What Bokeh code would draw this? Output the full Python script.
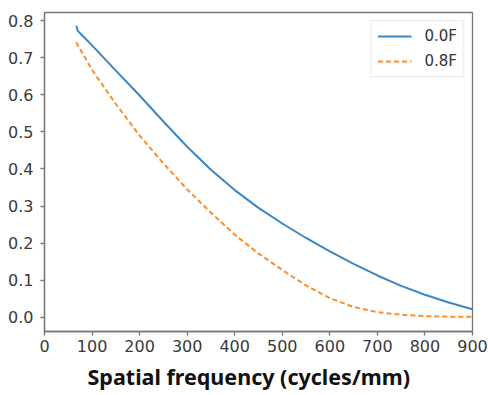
from bokeh.plotting import figure
from bokeh.models import FixedTicker, PrintfTickFormatter, Legend, LegendItem, Range1d, Title
from bokeh.embed import file_html
from bokeh.resources import INLINE

# Spatial frequency (cycles/mm)
freq = [67, 70, 80, 100, 150, 200, 250, 300, 350, 400, 450, 500, 550, 600,
        650, 700, 750, 800, 850, 900]
# MTF at field 0.0F
mtf_00 = [0.786, 0.772, 0.759, 0.733, 0.665, 0.598, 0.528, 0.460, 0.398, 0.343,
          0.295, 0.253, 0.214, 0.178, 0.144, 0.113, 0.085, 0.061, 0.040, 0.022]
# MTF at field 0.8F
mtf_08 = [0.742, 0.733, 0.712, 0.667, 0.575, 0.490, 0.415, 0.345, 0.282, 0.223,
          0.172, 0.128, 0.086, 0.052, 0.028, 0.014, 0.007, 0.0035, 0.002, 0.002]
series_names = ["0.0F", "0.8F"]
x_ticks = [0, 100, 200, 300, 400, 500, 600, 700, 800, 900]
y_ticks = [0.0, 0.1, 0.2, 0.3, 0.4, 0.5, 0.6, 0.7, 0.8]
x_title = "Spatial frequency (cycles/mm)"

p = figure(width=488, height=395, output_backend="svg", toolbar_location=None,
           x_range=Range1d(0, 900), y_range=Range1d(-0.038, 0.8216),
           min_border_left=44, min_border_right=16, min_border_top=12, min_border_bottom=0)

p.grid.visible = False
p.outline_line_color = "#777777"
p.outline_line_width = 1.3
p.background_fill_color = "white"
p.border_fill_color = "white"

r1 = p.line(freq, mtf_00, line_color="#3a87c4", line_width=2)
r2 = p.line(freq, mtf_08, line_color="#ff8c26", line_width=2, line_dash="5 3")

for ax in (p.xaxis[0], p.yaxis[0]):
    ax.axis_line_color = "#777777"
    ax.axis_line_width = 1.3
    ax.major_tick_line_color = "#777777"
    ax.major_tick_line_width = 1.3
    ax.major_tick_out = 4
    ax.major_tick_in = 0
    ax.minor_tick_line_color = None
    ax.major_label_text_font = "DejaVu Sans"
    ax.major_label_text_font_size = "16px"
    ax.major_label_text_color = "#3a3a3a"

p.xaxis.ticker = FixedTicker(ticks=x_ticks)
p.yaxis.ticker = FixedTicker(ticks=y_ticks)
p.yaxis.formatter = PrintfTickFormatter(format="%.1f")
p.xaxis.major_label_standoff = 4
p.yaxis.major_label_standoff = 7

xt = Title(text=x_title, align="left", offset=43, standoff=10,
           text_font="Noto Sans", text_font_style="bold",
           text_font_size="21.5px", text_color="#111111")
p.add_layout(xt, "below")

legend = Legend(items=[LegendItem(label=series_names[0], renderers=[r1]),
                       LegendItem(label=series_names[1], renderers=[r2])],
                location="top_right")
legend.margin = 8
legend.padding = 6
legend.spacing = 7
legend.glyph_width = 34
legend.glyph_height = 18
legend.label_height = 18
legend.label_standoff = 13
legend.label_text_font = "DejaVu Sans"
legend.label_text_font_size = "15px"
legend.label_text_color = "#333333"
legend.border_line_color = "#d6d6d6"
legend.border_line_width = 1
legend.background_fill_alpha = 0.9
p.add_layout(legend)

open("out.html", "w").write(file_html(p, INLINE))
